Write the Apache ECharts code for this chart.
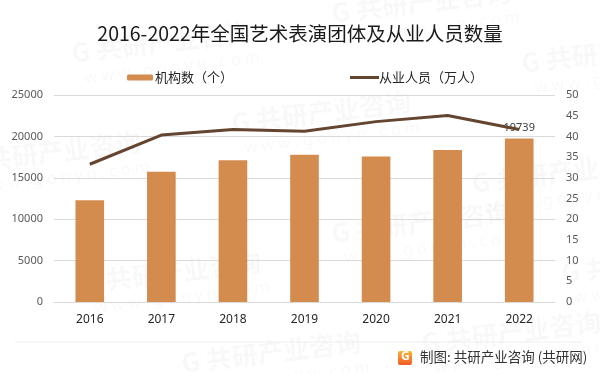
<!DOCTYPE html>
<html><head><meta charset="utf-8">
<script src="https://cdn.jsdelivr.net/npm/echarts@6/dist/echarts.min.js"></script>
<style>html,body{margin:0;padding:0;background:#fff}#c{width:600px;height:373px}</style>
</head><body><div id="c"></div>
<script>
const years = ['2016','2017','2018','2019','2020','2021','2022'];
const orgCount = [12301, 15742, 17123, 17795, 17581, 18370, 19739];
const staff = [33.27, 40.32, 41.64, 41.25, 43.57, 45.07, 41.65];
const leftTicks = [0, 5000, 10000, 15000, 20000, 25000];
const rightTicks = [0, 5, 10, 15, 20, 25, 30, 35, 40, 45, 50];

const CJK = '"Noto Sans CJK SC","Microsoft YaHei",sans-serif';
const NUM = '"Noto Sans","Liberation Sans",sans-serif';

const wm = [];
const wmPos = [[70,40],[330,0],[520,50],[-40,150],[230,110],[470,170],[80,270],[330,220],[560,260],[180,350],[420,330]];
wmPos.forEach(p => {
  wm.push({type:'group', x:p[0], y:p[1], rotation: 0.12, z:-10, silent:true, children:[
    {type:'text', style:{text:'G 共研产业咨询', font:'bold 26px '+CJK, fill:'rgba(0,0,0,0.028)'}},
    {type:'text', y:32, x:10, style:{text:'w w w . g o n y n . c o m', font:'16px '+NUM, fill:'rgba(0,0,0,0.028)'}}
  ]});
});

const chart = echarts.init(document.getElementById('c'), null, {renderer:'canvas'});
chart.setOption({
  animation:false,
  backgroundColor:'#fff',
  title:{text:'2016-2022年全国艺术表演团体及从业人员数量', left:'center', top:19,
    textStyle:{fontFamily:CJK, fontSize:19.5, fontWeight:'normal', color:'#1a1a1a'}},
  legend:[
    {data:['机构数（个）'], left:122, top:66, itemWidth:26, itemHeight:6, itemGap:2,
      textStyle:{fontFamily:CJK, fontSize:13, color:'#262626', padding:[0,0,0,-3]}},
    {data:[{name:'从业人员（万人）', icon:'rect'}], left:345, top:66, itemWidth:29, itemHeight:3,
      textStyle:{fontFamily:CJK, fontSize:13, color:'#262626', padding:[0,0,0,-5]}}
  ],
  grid:{left:54, right:45, top:95, bottom:71},
  xAxis:{type:'category', data:years,
    axisLine:{lineStyle:{color:'#d9d9d9'}}, axisTick:{show:false},
    axisLabel:{fontFamily:NUM, fontSize:12, color:'#262626', margin:12}},
  yAxis:[
    {type:'value', min:0, max:25000, interval:5000,
      axisLabel:{fontFamily:NUM, fontSize:11, color:'#595959', margin:11, formatter: v => String(v)},
      splitLine:{lineStyle:{color:'#d9d9d9'}}, axisLine:{show:false}, axisTick:{show:false}},
    {type:'value', min:0, max:50, interval:5,
      axisLabel:{fontFamily:NUM, fontSize:11, color:'#595959', margin:11, formatter: v => String(v)},
      splitLine:{show:false}, axisLine:{show:false}, axisTick:{show:false}}
  ],
  series:[
    {name:'机构数（个）', type:'bar', barWidth:'40%', itemStyle:{color:'#d38b4e'},
      data: orgCount.map((v,i)=> i===orgCount.length-1 ?
        {value:v, label:{show:true, position:'top', distance:5, fontFamily:NUM, fontSize:11, color:'#404040'}} : v)},
    {name:'从业人员（万人）', type:'line', yAxisIndex:1, data:staff, symbol:'none',
      lineStyle:{color:'#634530', width:3}, itemStyle:{color:'#634530'}}
  ],
  graphic: wm.concat([
    {type:'line', shape:{x1:15,y1:342,x2:582,y2:342}, style:{stroke:'#eeeeee', lineWidth:1}},
    {type:'rect', shape:{x:398, y:351, width:14, height:14, r:2},
      style:{fill:new echarts.graphic.LinearGradient(0,0,0,1,[{offset:0,color:'#f7b733'},{offset:1,color:'#f05a28'}])}},
    {type:'text', x:401, y:351, style:{text:'G', font:'bold 12px '+NUM, fill:'#fff'}},
    {type:'text', x:420, y:350, style:{text:'制图: 共研产业咨询 (共研网)', font:'13.5px '+CJK, fill:'#333'}}
  ])
});
</script></body></html>
